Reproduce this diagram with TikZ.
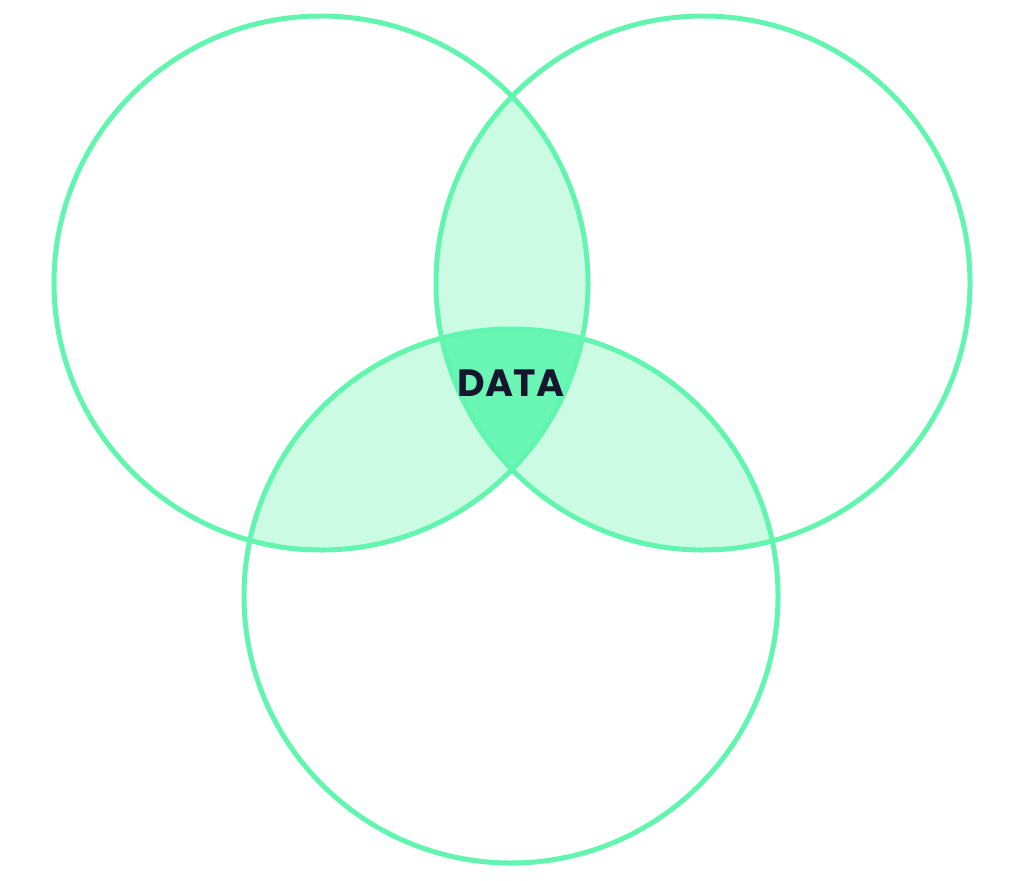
\documentclass[tikz,border=0pt]{standalone}
\usepackage{fontspec}
\newfontfamily\popfont{Poppins Bold}
\definecolor{ring}{HTML}{62F5B0}
\definecolor{lightfill}{HTML}{CCFBE4}
\definecolor{darkfill}{HTML}{6AF7B6}
\definecolor{ink}{HTML}{16162E}
\begin{document}
\begin{tikzpicture}[x=1pt,y=-1pt,
  ringline/.style={draw=ring,line width=5pt},
  lbl/.style={text=ink,font=\popfont\fontsize{38}{38}\selectfont,inner sep=0pt}]
\useasboundingbox (0,0) rectangle (1024,880);
\fill[white] (0,0) rectangle (1024,880);
\def\R{267}
\coordinate (cl) at (321,283);
\coordinate (cr) at (703,283);
\coordinate (cb) at (511,596);
% pairwise overlaps
\begin{scope}
  \clip (cl) circle (\R);
  \fill[lightfill] (cr) circle (\R);
  \fill[lightfill] (cb) circle (\R);
\end{scope}
\begin{scope}
  \clip (cr) circle (\R);
  \fill[lightfill] (cb) circle (\R);
\end{scope}
% triple overlap
\begin{scope}
  \clip (cl) circle (\R);
  \clip (cr) circle (\R);
  \fill[darkfill] (cb) circle (\R);
\end{scope}
\draw[ringline] (cl) circle (\R);
\draw[ringline] (cr) circle (\R);
\draw[ringline] (cb) circle (\R);
\node[lbl] (data) at (511,383) {DATA};
\end{tikzpicture}
\end{document}
